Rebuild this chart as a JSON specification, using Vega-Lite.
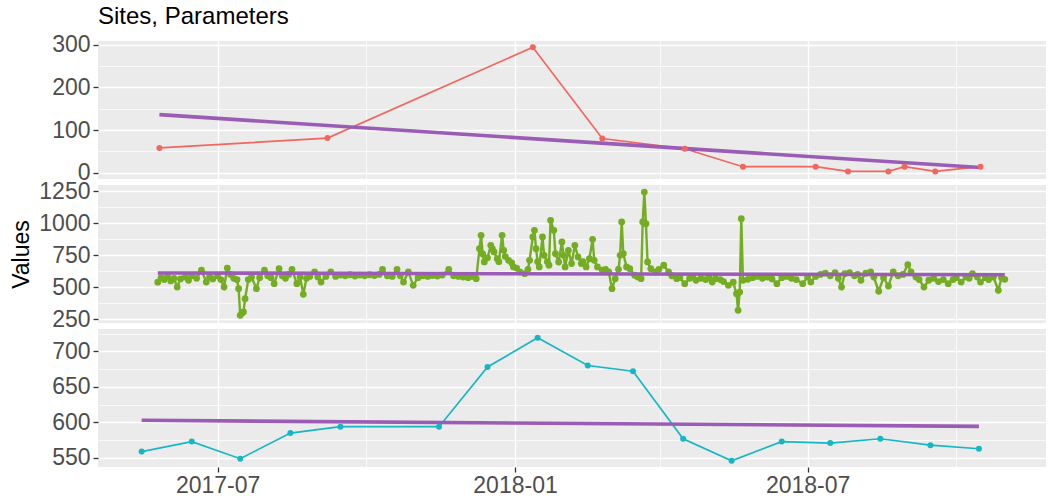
{
  "$schema": "https://vega.github.io/schema/vega-lite/v6.json",
  "background": "white",
  "padding": {"left": 10, "top": 4, "right": 5, "bottom": 1},
  "spacing": 6,
  "bounds": "flush",
  "config": {
    "view": {"fill": "#EBEBEB", "stroke": null},
    "font": "Liberation Sans",
    "axis": {
      "labelFont": "Liberation Sans",
      "labelFontSize": 23,
      "labelColor": "#4D4D4D",
      "tickColor": "#333333",
      "tickSize": 5,
      "tickWidth": 1.3,
      "labelPadding": 3,
      "domain": false,
      "gridColor": "#FFFFFF",
      "titleFont": "Liberation Sans",
      "titleFontSize": 23,
      "titleFontWeight": "normal",
      "titleColor": "#000000",
      "titlePadding": 5
    }
  },
  "datasets": {
    "red": [
      {"date": "2017-05-26", "value": 58},
      {"date": "2017-09-07", "value": 81},
      {"date": "2018-01-12", "value": 294},
      {"date": "2018-02-24", "value": 80},
      {"date": "2018-04-16", "value": 56},
      {"date": "2018-05-22", "value": 14},
      {"date": "2018-07-06", "value": 14},
      {"date": "2018-07-26", "value": 3},
      {"date": "2018-08-20", "value": 3},
      {"date": "2018-08-30", "value": 14},
      {"date": "2018-09-18", "value": 3},
      {"date": "2018-10-16", "value": 14}
    ],
    "cyan": [
      {"date": "2017-05-15", "value": 559},
      {"date": "2017-06-15", "value": 573},
      {"date": "2017-07-15", "value": 549},
      {"date": "2017-08-15", "value": 585},
      {"date": "2017-09-15", "value": 594},
      {"date": "2017-11-15", "value": 594},
      {"date": "2017-12-15", "value": 678},
      {"date": "2018-01-15", "value": 719},
      {"date": "2018-02-15", "value": 680},
      {"date": "2018-03-15", "value": 672},
      {"date": "2018-04-15", "value": 577},
      {"date": "2018-05-15", "value": 546},
      {"date": "2018-06-15", "value": 573},
      {"date": "2018-07-15", "value": 571},
      {"date": "2018-08-15", "value": 577},
      {"date": "2018-09-15", "value": 568},
      {"date": "2018-10-15", "value": 563}
    ],
    "trend": [
      {"panel": "red", "date": "2017-05-26", "value": 136},
      {"panel": "red", "date": "2018-10-16", "value": 12},
      {"panel": "green", "date": "2017-05-25", "value": 612},
      {"panel": "green", "date": "2018-10-31", "value": 598},
      {"panel": "cyan", "date": "2017-05-15", "value": 603},
      {"panel": "cyan", "date": "2018-10-15", "value": 594.5}
    ],
    "green": [
      {"date": "2017-05-25", "value": 540},
      {"date": "2017-05-27", "value": 575},
      {"date": "2017-05-29", "value": 560},
      {"date": "2017-05-31", "value": 585},
      {"date": "2017-06-02", "value": 550},
      {"date": "2017-06-04", "value": 570},
      {"date": "2017-06-06", "value": 502},
      {"date": "2017-06-08", "value": 565},
      {"date": "2017-06-11", "value": 580},
      {"date": "2017-06-13", "value": 555},
      {"date": "2017-06-15", "value": 590},
      {"date": "2017-06-18", "value": 570},
      {"date": "2017-06-21", "value": 633},
      {"date": "2017-06-24", "value": 541},
      {"date": "2017-06-26", "value": 580},
      {"date": "2017-06-28", "value": 565},
      {"date": "2017-07-01", "value": 590},
      {"date": "2017-07-03", "value": 560},
      {"date": "2017-07-05", "value": 502},
      {"date": "2017-07-07", "value": 650},
      {"date": "2017-07-09", "value": 600},
      {"date": "2017-07-11", "value": 570},
      {"date": "2017-07-13", "value": 560},
      {"date": "2017-07-14", "value": 489},
      {"date": "2017-07-15", "value": 281},
      {"date": "2017-07-16", "value": 300},
      {"date": "2017-07-17", "value": 307},
      {"date": "2017-07-18", "value": 411},
      {"date": "2017-07-20", "value": 560},
      {"date": "2017-07-22", "value": 580},
      {"date": "2017-07-25", "value": 489},
      {"date": "2017-07-27", "value": 575},
      {"date": "2017-07-30", "value": 633},
      {"date": "2017-08-01", "value": 590},
      {"date": "2017-08-03", "value": 575},
      {"date": "2017-08-05", "value": 528},
      {"date": "2017-08-08", "value": 645},
      {"date": "2017-08-10", "value": 590},
      {"date": "2017-08-12", "value": 570},
      {"date": "2017-08-14", "value": 600},
      {"date": "2017-08-16", "value": 640},
      {"date": "2017-08-19", "value": 528},
      {"date": "2017-08-21", "value": 580},
      {"date": "2017-08-23", "value": 445},
      {"date": "2017-08-25", "value": 570},
      {"date": "2017-08-27", "value": 585},
      {"date": "2017-08-30", "value": 620},
      {"date": "2017-09-01", "value": 580},
      {"date": "2017-09-03", "value": 541},
      {"date": "2017-09-06", "value": 585},
      {"date": "2017-09-09", "value": 620},
      {"date": "2017-09-12", "value": 585},
      {"date": "2017-09-15", "value": 595},
      {"date": "2017-09-18", "value": 590},
      {"date": "2017-09-21", "value": 598},
      {"date": "2017-09-24", "value": 588},
      {"date": "2017-09-27", "value": 595},
      {"date": "2017-09-30", "value": 590},
      {"date": "2017-10-03", "value": 598},
      {"date": "2017-10-06", "value": 592},
      {"date": "2017-10-09", "value": 600},
      {"date": "2017-10-11", "value": 640},
      {"date": "2017-10-14", "value": 590},
      {"date": "2017-10-17", "value": 585},
      {"date": "2017-10-20", "value": 640},
      {"date": "2017-10-22", "value": 590},
      {"date": "2017-10-24", "value": 541},
      {"date": "2017-10-27", "value": 620},
      {"date": "2017-10-30", "value": 515},
      {"date": "2017-11-02", "value": 575},
      {"date": "2017-11-05", "value": 590},
      {"date": "2017-11-08", "value": 585},
      {"date": "2017-11-11", "value": 592},
      {"date": "2017-11-14", "value": 588},
      {"date": "2017-11-17", "value": 595},
      {"date": "2017-11-21", "value": 640},
      {"date": "2017-11-24", "value": 590},
      {"date": "2017-11-27", "value": 585},
      {"date": "2017-11-30", "value": 580},
      {"date": "2017-12-03", "value": 575},
      {"date": "2017-12-05", "value": 585},
      {"date": "2017-12-08", "value": 567},
      {"date": "2017-12-10", "value": 801},
      {"date": "2017-12-11", "value": 906},
      {"date": "2017-12-12", "value": 760},
      {"date": "2017-12-13", "value": 698},
      {"date": "2017-12-15", "value": 730},
      {"date": "2017-12-17", "value": 828},
      {"date": "2017-12-18", "value": 800},
      {"date": "2017-12-19", "value": 776},
      {"date": "2017-12-21", "value": 723},
      {"date": "2017-12-22", "value": 700},
      {"date": "2017-12-24", "value": 906},
      {"date": "2017-12-25", "value": 789},
      {"date": "2017-12-26", "value": 740},
      {"date": "2017-12-28", "value": 711},
      {"date": "2017-12-30", "value": 690},
      {"date": "2017-12-31", "value": 659},
      {"date": "2018-01-02", "value": 650},
      {"date": "2018-01-04", "value": 620},
      {"date": "2018-01-07", "value": 606},
      {"date": "2018-01-09", "value": 640},
      {"date": "2018-01-10", "value": 711},
      {"date": "2018-01-12", "value": 893},
      {"date": "2018-01-13", "value": 945},
      {"date": "2018-01-14", "value": 801},
      {"date": "2018-01-15", "value": 700},
      {"date": "2018-01-16", "value": 659},
      {"date": "2018-01-18", "value": 893},
      {"date": "2018-01-19", "value": 750},
      {"date": "2018-01-21", "value": 700},
      {"date": "2018-01-22", "value": 672},
      {"date": "2018-01-23", "value": 1023},
      {"date": "2018-01-25", "value": 945},
      {"date": "2018-01-26", "value": 762},
      {"date": "2018-01-28", "value": 698},
      {"date": "2018-01-30", "value": 854},
      {"date": "2018-01-31", "value": 750},
      {"date": "2018-02-01", "value": 659},
      {"date": "2018-02-03", "value": 789},
      {"date": "2018-02-05", "value": 685},
      {"date": "2018-02-07", "value": 828},
      {"date": "2018-02-09", "value": 737},
      {"date": "2018-02-11", "value": 685},
      {"date": "2018-02-12", "value": 700},
      {"date": "2018-02-14", "value": 659},
      {"date": "2018-02-16", "value": 723},
      {"date": "2018-02-18", "value": 875},
      {"date": "2018-02-19", "value": 711},
      {"date": "2018-02-21", "value": 659},
      {"date": "2018-02-24", "value": 633},
      {"date": "2018-02-26", "value": 640},
      {"date": "2018-02-28", "value": 620},
      {"date": "2018-03-02", "value": 489},
      {"date": "2018-03-04", "value": 567},
      {"date": "2018-03-06", "value": 640},
      {"date": "2018-03-07", "value": 750},
      {"date": "2018-03-08", "value": 1010},
      {"date": "2018-03-09", "value": 762},
      {"date": "2018-03-11", "value": 659},
      {"date": "2018-03-13", "value": 645},
      {"date": "2018-03-16", "value": 594},
      {"date": "2018-03-18", "value": 580},
      {"date": "2018-03-20", "value": 567},
      {"date": "2018-03-21", "value": 1010},
      {"date": "2018-03-22", "value": 1244},
      {"date": "2018-03-23", "value": 997},
      {"date": "2018-03-24", "value": 698},
      {"date": "2018-03-26", "value": 645},
      {"date": "2018-03-29", "value": 620},
      {"date": "2018-03-31", "value": 640},
      {"date": "2018-04-03", "value": 672},
      {"date": "2018-04-06", "value": 620},
      {"date": "2018-04-08", "value": 590},
      {"date": "2018-04-11", "value": 567},
      {"date": "2018-04-13", "value": 575},
      {"date": "2018-04-16", "value": 528},
      {"date": "2018-04-19", "value": 570},
      {"date": "2018-04-21", "value": 580},
      {"date": "2018-04-23", "value": 554},
      {"date": "2018-04-26", "value": 570},
      {"date": "2018-04-29", "value": 560},
      {"date": "2018-05-01", "value": 575},
      {"date": "2018-05-03", "value": 541},
      {"date": "2018-05-05", "value": 567},
      {"date": "2018-05-08", "value": 560},
      {"date": "2018-05-10", "value": 545},
      {"date": "2018-05-13", "value": 515},
      {"date": "2018-05-16", "value": 540},
      {"date": "2018-05-18", "value": 450},
      {"date": "2018-05-19", "value": 320},
      {"date": "2018-05-20", "value": 463},
      {"date": "2018-05-21", "value": 1036},
      {"date": "2018-05-22", "value": 554},
      {"date": "2018-05-25", "value": 562},
      {"date": "2018-05-28", "value": 575},
      {"date": "2018-05-31", "value": 585},
      {"date": "2018-06-03", "value": 570},
      {"date": "2018-06-06", "value": 580},
      {"date": "2018-06-09", "value": 565},
      {"date": "2018-06-12", "value": 528},
      {"date": "2018-06-15", "value": 575},
      {"date": "2018-06-18", "value": 585},
      {"date": "2018-06-21", "value": 570},
      {"date": "2018-06-24", "value": 560},
      {"date": "2018-06-28", "value": 528},
      {"date": "2018-07-01", "value": 580},
      {"date": "2018-07-03", "value": 541},
      {"date": "2018-07-06", "value": 585},
      {"date": "2018-07-09", "value": 600},
      {"date": "2018-07-12", "value": 610},
      {"date": "2018-07-15", "value": 590},
      {"date": "2018-07-18", "value": 615},
      {"date": "2018-07-20", "value": 570},
      {"date": "2018-07-22", "value": 502},
      {"date": "2018-07-24", "value": 606},
      {"date": "2018-07-27", "value": 615},
      {"date": "2018-07-30", "value": 590},
      {"date": "2018-08-01", "value": 600},
      {"date": "2018-08-03", "value": 554},
      {"date": "2018-08-06", "value": 610},
      {"date": "2018-08-09", "value": 620},
      {"date": "2018-08-11", "value": 580},
      {"date": "2018-08-14", "value": 469},
      {"date": "2018-08-17", "value": 575},
      {"date": "2018-08-20", "value": 510},
      {"date": "2018-08-23", "value": 620},
      {"date": "2018-08-26", "value": 590},
      {"date": "2018-08-29", "value": 600},
      {"date": "2018-09-01", "value": 677},
      {"date": "2018-09-03", "value": 620},
      {"date": "2018-09-06", "value": 580},
      {"date": "2018-09-08", "value": 560},
      {"date": "2018-09-11", "value": 502},
      {"date": "2018-09-14", "value": 555},
      {"date": "2018-09-17", "value": 570},
      {"date": "2018-09-20", "value": 545},
      {"date": "2018-09-23", "value": 560},
      {"date": "2018-09-26", "value": 528},
      {"date": "2018-09-29", "value": 560},
      {"date": "2018-10-01", "value": 575},
      {"date": "2018-10-04", "value": 541},
      {"date": "2018-10-07", "value": 580},
      {"date": "2018-10-09", "value": 570},
      {"date": "2018-10-11", "value": 606},
      {"date": "2018-10-14", "value": 580},
      {"date": "2018-10-16", "value": 541},
      {"date": "2018-10-19", "value": 575},
      {"date": "2018-10-21", "value": 560},
      {"date": "2018-10-24", "value": 580},
      {"date": "2018-10-27", "value": 476},
      {"date": "2018-10-29", "value": 575},
      {"date": "2018-10-31", "value": 562}
    ]
  },
  "vconcat": [
    {
      "width": 948,
      "height": 138,
      "title": {"text": "Sites, Parameters", "anchor": "start", "frame": "group", "fontSize": 24, "fontWeight": "normal", "color": "#000000", "font": "Liberation Sans", "offset": 5},
      "encoding": {
        "x": {"field": "date", "type": "temporal",
          "scale": {"domain": [{"year": 2017, "month": 4, "date": 18}, {"year": 2018, "month": 11, "date": 25, "hours": 12}]},
          "axis": {"values": [{"year": 2017, "month": 7, "date": 1}, {"year": 2017, "month": 10, "date": 1}, {"year": 2018, "month": 1, "date": 1}, {"year": 2018, "month": 4, "date": 1}, {"year": 2018, "month": 7, "date": 1}, {"year": 2018, "month": 10, "date": 1}],
            "labels": false, "ticks": false, "title": null, "tickSize": 0, "labelPadding": 0, "minExtent": 0, "maxExtent": 0, "offset": 0,
            "gridWidth": {"condition": {"test": "month(datum.value) % 6 !== 0", "value": 0.7}, "value": 1.4}}},
        "y": {"field": "value", "type": "quantitative",
          "scale": {"domain": [-14.8, 308.6], "nice": false, "zero": false},
          "axis": {"values": [0, 50, 100, 150, 200, 250, 300], "format": "d", "title": null,
            "labelExpr": "datum.value % 100 === 0 ? datum.label : ''",
            "tickOpacity": {"condition": {"test": "datum.value % 100 !== 0", "value": 0}, "value": 1},
            "gridWidth": {"condition": {"test": "datum.value % 100 !== 0", "value": 0.7}, "value": 1.4}}}
      },
      "layer": [
        {"data": {"name": "red"}, "mark": {"type": "line", "color": "#F0675F", "strokeWidth": 1.7}},
        {"data": {"name": "trend"}, "transform": [{"filter": "datum.panel === 'red'"}], "mark": {"type": "line", "color": "#9A5CB4", "strokeWidth": 3.6}},
        {"data": {"name": "red"}, "mark": {"type": "point", "filled": true, "opacity": 1, "size": 36, "color": "#F0675F"}}
      ]
    },
    {
      "width": 948,
      "height": 138,
      "encoding": {
        "x": {"field": "date", "type": "temporal",
          "scale": {"domain": [{"year": 2017, "month": 4, "date": 18}, {"year": 2018, "month": 11, "date": 25, "hours": 12}]},
          "axis": {"values": [{"year": 2017, "month": 7, "date": 1}, {"year": 2017, "month": 10, "date": 1}, {"year": 2018, "month": 1, "date": 1}, {"year": 2018, "month": 4, "date": 1}, {"year": 2018, "month": 7, "date": 1}, {"year": 2018, "month": 10, "date": 1}],
            "labels": false, "ticks": false, "title": null, "tickSize": 0, "labelPadding": 0, "minExtent": 0, "maxExtent": 0, "offset": 0,
            "gridWidth": {"condition": {"test": "month(datum.value) % 6 !== 0", "value": 0.7}, "value": 1.4}}},
        "y": {"field": "value", "type": "quantitative",
          "scale": {"domain": [221, 1299], "nice": false, "zero": false},
          "axis": {"values": [250, 375, 500, 625, 750, 875, 1000, 1125, 1250], "format": "d", "title": "Values",
            "labelExpr": "datum.value % 250 === 0 ? datum.label : ''",
            "tickOpacity": {"condition": {"test": "datum.value % 250 !== 0", "value": 0}, "value": 1},
            "gridWidth": {"condition": {"test": "datum.value % 250 !== 0", "value": 0.7}, "value": 1.4}}}
      },
      "layer": [
        {"data": {"name": "green"}, "mark": {"type": "line", "color": "#74AD22", "strokeWidth": 2.4}},
        {"data": {"name": "green"}, "mark": {"type": "point", "filled": true, "opacity": 1, "size": 46, "color": "#74AD22"}},
        {"data": {"name": "trend"}, "transform": [{"filter": "datum.panel === 'green'"}], "mark": {"type": "line", "color": "#9A5CB4", "strokeWidth": 3.6}}
      ]
    },
    {
      "width": 948,
      "height": 138,
      "encoding": {
        "x": {"field": "date", "type": "temporal",
          "scale": {"domain": [{"year": 2017, "month": 4, "date": 18}, {"year": 2018, "month": 11, "date": 25, "hours": 12}]},
          "axis": {"values": [{"year": 2017, "month": 7, "date": 1}, {"year": 2017, "month": 10, "date": 1}, {"year": 2018, "month": 1, "date": 1}, {"year": 2018, "month": 4, "date": 1}, {"year": 2018, "month": 7, "date": 1}, {"year": 2018, "month": 10, "date": 1}],
            "format": "%Y-%m", "title": null, "labelPadding": 2,
            "labelExpr": "month(datum.value) % 6 === 0 ? datum.label : ''",
            "tickOpacity": {"condition": {"test": "month(datum.value) % 6 !== 0", "value": 0}, "value": 1},
            "gridWidth": {"condition": {"test": "month(datum.value) % 6 !== 0", "value": 0.7}, "value": 1.4}}},
        "y": {"field": "value", "type": "quantitative",
          "scale": {"domain": [537.3, 731.4], "nice": false, "zero": false},
          "axis": {"values": [550, 575, 600, 625, 650, 675, 700, 725], "format": "d", "title": null,
            "labelExpr": "datum.value % 50 === 0 ? datum.label : ''",
            "tickOpacity": {"condition": {"test": "datum.value % 50 !== 0", "value": 0}, "value": 1},
            "gridWidth": {"condition": {"test": "datum.value % 50 !== 0", "value": 0.7}, "value": 1.4}}}
      },
      "layer": [
        {"data": {"name": "cyan"}, "mark": {"type": "line", "color": "#17B6C3", "strokeWidth": 1.7}},
        {"data": {"name": "trend"}, "transform": [{"filter": "datum.panel === 'cyan'"}], "mark": {"type": "line", "color": "#9A5CB4", "strokeWidth": 3.6}},
        {"data": {"name": "cyan"}, "mark": {"type": "point", "filled": true, "opacity": 1, "size": 36, "color": "#17B6C3"}}
      ]
    }
  ]
}
